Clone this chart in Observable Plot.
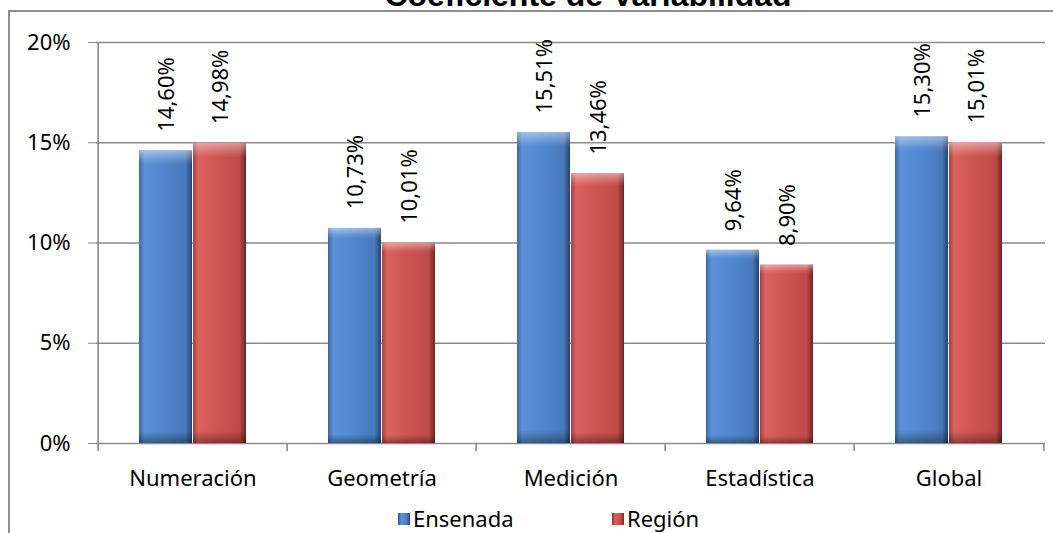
<!DOCTYPE html>
<html><head><meta charset="utf-8">
<script src="https://cdn.jsdelivr.net/npm/d3@7"></script>
<script src="https://cdn.jsdelivr.net/npm/@observablehq/plot@0.6"></script>
<style>
body{margin:0;background:#fff;}
#wrap{position:relative;width:1053px;height:533px;overflow:hidden;font-family:"Noto Sans",sans-serif;background:#fff;}
#border{position:absolute;left:8px;top:10px;width:1200px;height:700px;border-top:2px solid #8e8e8e;border-left:2px solid #8e8e8e;}
#title{position:absolute;left:0;width:1176px;text-align:center;top:-21px;font:bold 32px/32px "Liberation Sans",Arial,sans-serif;color:#000;}
#chart{position:absolute;left:0;top:0;}
.sw{position:absolute;width:12px;height:12px;}
.lt{position:absolute;font-size:22px;line-height:22px;color:#000;}
</style></head>
<body>
<div id="wrap">
  <div id="border"></div>
  <div id="title">Coeficiente de Variabilidad</div>
  <div id="chart"></div>
  <div class="sw" style="left:398px;top:513px;background:linear-gradient(90deg,#2f5a93,#5b92d8 30%,#4a7ec2 70%,#27487a);"></div>
  <div class="lt" style="left:413px;top:507px;">Ensenada</div>
  <div class="sw" style="left:612px;top:513px;background:linear-gradient(90deg,#8e3431,#d8605d 30%,#c74f4c 70%,#7a2826);"></div>
  <div class="lt" style="left:627px;top:507px;">Región</div>
</div>
<script>
const categories = ["Numeración", "Geometría", "Medición", "Estadística", "Global"];
const series = ["Ensenada", "Región"];
const ensenada = [14.60, 10.73, 15.51, 9.64, 15.30];
const region = [14.98, 10.01, 13.46, 8.90, 15.01];
const yTicks = [0, 5, 10, 15, 20];

const rowsE = categories.map((c, i) => ({cat: c, series: series[0], val: ensenada[i]}));
const rowsR = categories.map((c, i) => ({cat: c, series: series[1], val: region[i]}));
const fmt = v => v.toFixed(2).replace(".", ",") + "%";

const W = 1053, H = 500, ML = 96, MR = 8, MT = 42, MB = 57;
const bw = (W - ML - MR) / categories.length;

const plot = Plot.plot({
  width: W, height: H,
  marginLeft: ML, marginRight: MR, marginTop: MT, marginBottom: MB,
  style: {fontFamily: "Noto Sans", fontSize: "22px", background: "transparent", color: "#000", overflow: "visible"},
  x: {domain: categories, padding: 0},
  y: {domain: [0, 20]},
  marks: [
    Plot.ruleY(yTicks, {stroke: "#8a8a8a", strokeWidth: 1.6}),
    Plot.ruleX([categories[0]], {dx: -bw / 2, y1: 0, y2: 20, stroke: "#8a8a8a", strokeWidth: 1.6}),
    Plot.ruleX(categories, {dx: -bw / 2, y1: 0, y2: 0, insetBottom: -8, stroke: "#8a8a8a", strokeWidth: 1.6}),
    Plot.ruleX([categories[categories.length - 1]], {dx: bw / 2, y1: 0, y2: 0, insetBottom: -8, stroke: "#8a8a8a", strokeWidth: 1.6}),
    Plot.axisY({ticks: yTicks, tickFormat: d => d + "%", tickSize: 8, tickPadding: 18, stroke: "#8a8a8a", fill: "#000", label: null, fontSize: 22}),
    Plot.axisX({tickSize: 0, tickPadding: 27, label: null, fill: "#000", fontSize: 22}),
    Plot.barY(rowsE, {x: "cat", y: "val", fill: "url(#gBlue)", insetLeft: 41, insetRight: 95}),
    Plot.barY(rowsE, {x: "cat", y: "val", fill: "url(#gShade)", insetLeft: 41, insetRight: 95}),
    Plot.barY(rowsR, {x: "cat", y: "val", fill: "url(#gRed)", insetLeft: 95, insetRight: 41}),
    Plot.barY(rowsR, {x: "cat", y: "val", fill: "url(#gShade)", insetLeft: 95, insetRight: 41}),
    Plot.text(rowsE, {x: "cat", y: "val", text: d => fmt(d.val), rotate: -90, textAnchor: "start", lineAnchor: "middle", dx: -26, dy: -19, fontSize: 22, fill: "#000"}),
    Plot.text(rowsR, {x: "cat", y: "val", text: d => fmt(d.val), rotate: -90, textAnchor: "start", lineAnchor: "middle", dx: 28, dy: -19, fontSize: 22, fill: "#000"})
  ]
});

const defs = d3.select(plot).insert("defs", ":first-child");
function hgrad(id, stops) {
  const g = defs.append("linearGradient").attr("id", id).attr("x1", 0).attr("x2", 1).attr("y1", 0).attr("y2", 0);
  stops.forEach(([o, c]) => g.append("stop").attr("offset", o).attr("stop-color", c));
}
hgrad("gBlue", [[0, "#3a68a6"], [0.1, "#5a91d8"], [0.5, "#4f86cd"], [0.88, "#4779bb"], [1, "#24436f"]]);
hgrad("gRed", [[0, "#a8403d"], [0.1, "#db625f"], [0.5, "#cc5350"], [0.88, "#bf4b48"], [1, "#6f2422"]]);
const sh = defs.append("linearGradient").attr("id", "gShade").attr("x1", 0).attr("x2", 0).attr("y1", 0).attr("y2", 1);
[[0, "#ffffff", 0.45], [0.035, "#ffffff", 0.1], [0.05, "#ffffff", 0], [0.96, "#000000", 0], [1, "#000000", 0.35]]
  .forEach(([o, c, a]) => sh.append("stop").attr("offset", o).attr("stop-color", c).attr("stop-opacity", a));

document.getElementById("chart").appendChild(plot);
</script>
</body></html>
